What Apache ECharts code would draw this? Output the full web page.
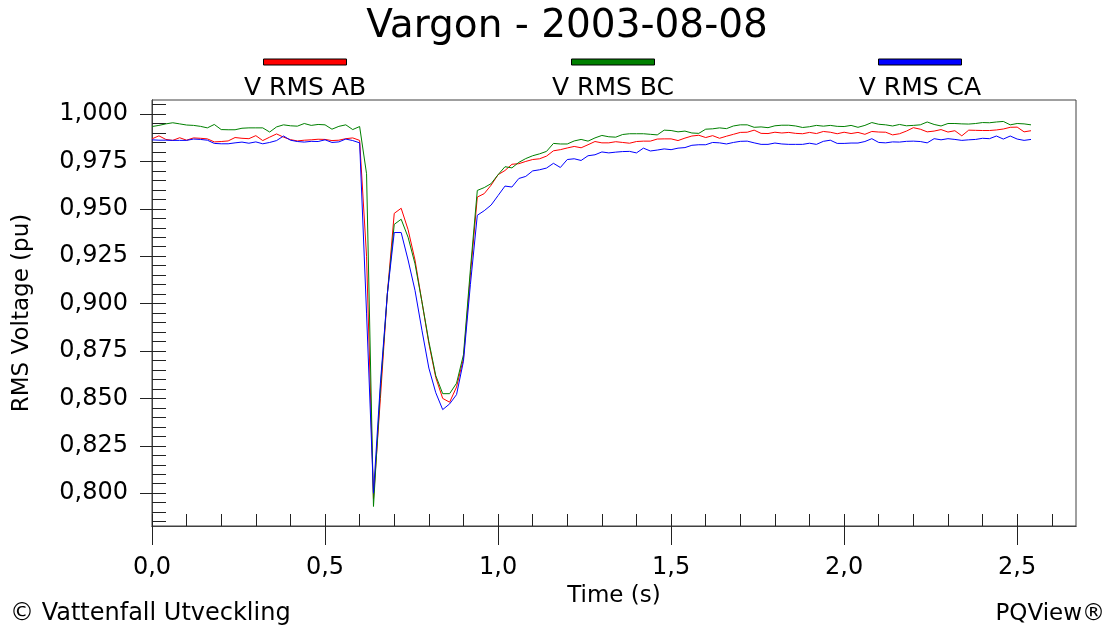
<!DOCTYPE html>
<html>
<head>
<meta charset="utf-8">
<script src="https://cdn.jsdelivr.net/npm/echarts@6/dist/echarts.min.js"></script>
<style>
  html, body { margin: 0; padding: 0; background: #fff; }
  #main { width: 1109px; height: 627px; }
</style>
</head>
<body>
<div id="main"></div>
<script>
// one sample per cycle (50 Hz), starting at t = 0
var DT = 0.02;

var rmsAB = [
  0.9869,0.9885,0.9866,0.9861,0.9875,0.9862,0.9874,0.9872,0.9869,0.9853,0.9855,0.9858,0.9876,0.9872,0.9870,0.9886,
  0.9860,0.9878,0.9895,0.9878,0.9865,0.9858,0.9862,0.9864,0.9867,0.9866,0.9860,0.9862,0.9870,0.9874,0.9861,
  0.925,0.797,0.850,0.905,0.9476,0.9503,0.939,0.923,0.901,0.879,0.861,0.850,0.848,0.856,0.871,0.915,0.9562,
  0.9580,0.9625,0.9680,0.9702,0.9735,0.9738,0.9750,0.9760,0.9764,0.9778,0.9806,0.9812,0.9821,0.9829,0.9822,0.9838,
  0.9855,0.9848,0.9848,0.9854,0.9850,0.9846,0.9855,0.9857,0.9857,0.9868,0.9869,0.9869,0.9860,0.9873,0.9884,0.9888,
  0.9876,0.9886,0.9872,0.9883,0.9893,0.9903,0.9904,0.9915,0.9898,0.9897,0.9904,0.9900,0.9903,0.9898,0.9896,0.9903,
  0.9897,0.9908,0.9904,0.9896,0.9904,0.9897,0.9903,0.9893,
  0.9908,0.9905,0.9904,0.9890,0.9896,0.9910,0.9928,0.9920,0.9906,0.9910,0.9918,0.9905,0.9912,0.9885,0.9915,0.9914,
  0.9913,0.9913,0.9916,0.9921,0.9930,0.9931,0.9906,0.9912
];

var rmsBC = [
  0.9934,0.9940,0.9948,0.9954,0.9948,0.9942,0.9940,0.9935,0.9927,0.9945,0.9918,0.9917,0.9917,0.9925,0.9927,0.9927,
  0.9927,0.9905,0.9932,0.9943,0.9938,0.9936,0.9950,0.9940,0.9945,0.9943,0.9920,0.9935,0.9943,0.9918,0.9934,
  0.9685,0.793,0.855,0.905,0.9418,0.9445,0.935,0.921,0.901,0.880,0.862,0.8525,0.8525,0.858,0.873,0.918,0.9597,
  0.9612,0.9633,0.9680,0.9722,0.9716,0.9745,0.9765,0.9780,0.9790,0.9803,0.9845,0.9842,0.9842,0.9858,0.9866,0.9857,
  0.9874,0.9887,0.9880,0.9878,0.9892,0.9896,0.9896,0.9896,0.9893,0.9890,0.9915,0.9913,0.9906,0.9910,0.9900,0.9898,
  0.9920,0.9922,0.9927,0.9923,0.9937,0.9943,0.9943,0.9930,0.9932,0.9928,0.9938,0.9941,0.9941,0.9937,0.9929,0.9933,
  0.9940,0.9936,0.9940,0.9935,0.9934,0.9940,0.9930,0.9940,
  0.9955,0.9946,0.9943,0.9937,0.9945,0.9938,0.9940,0.9943,0.9958,0.9945,0.9937,0.9950,0.9950,0.9948,0.9947,0.9950,
  0.9955,0.9954,0.9958,0.9961,0.9943,0.9950,0.9948,0.9943
];

var rmsCA = [
  0.9864,0.9862,0.9862,0.9861,0.9861,0.9861,0.9868,0.9866,0.9862,0.9845,0.9843,0.9843,0.9848,0.9852,0.9846,0.9853,
  0.9843,0.9850,0.9860,0.9884,0.9862,0.9855,0.9852,0.9856,0.9855,0.9864,0.9850,0.9853,0.9868,0.9860,0.9848,
  0.895,0.800,0.858,0.905,0.9375,0.9375,0.923,0.907,0.886,0.866,0.853,0.8441,0.8471,0.852,0.8696,0.910,0.9466,
  0.9490,0.9520,0.9570,0.9620,0.9615,0.9660,0.9671,0.9700,0.9706,0.9715,0.9740,0.9718,0.9760,0.9764,0.9755,0.9780,
  0.9785,0.9800,0.9795,0.9799,0.9802,0.9803,0.9795,0.9820,0.9805,0.9810,0.9816,0.9812,0.9820,0.9823,0.9835,0.9838,
  0.9838,0.9850,0.9848,0.9842,0.9850,0.9856,0.9857,0.9848,0.9840,0.9840,0.9847,0.9842,0.9840,0.9840,0.9840,0.9846,
  0.9840,0.9856,0.9862,0.9845,0.9845,0.9847,0.9847,0.9855,
  0.9870,0.9850,0.9848,0.9853,0.9852,0.9856,0.9857,0.9855,0.9848,0.9870,0.9864,0.9870,0.9866,0.9861,0.9864,0.9866,
  0.9872,0.9870,0.9884,0.9868,0.9884,0.9868,0.9861,0.9866
];

var seriesNames = ['V RMS AB', 'V RMS BC', 'V RMS CA'];
var xMajorTicks = [0, 0.5, 1.0, 1.5, 2.0, 2.5];
var yMajorTicks = [0.800, 0.825, 0.850, 0.875, 0.900, 0.925, 0.950, 0.975, 1.000];

var colors = ['#ff0000', '#008000', '#0000ff'];
var FONT = '"DejaVu Sans", "Liberation Sans", sans-serif';

// minor tick positions (0.1 s and 0.005 pu)
var xMinorTicks = [];
for (var i = 0; i <= 26; i++) xMinorTicks.push(Math.round(i * 10) / 100);
var yMinorTicks = [];
for (var j = 157; j <= 201; j++) yMinorTicks.push(Math.round(j * 5) / 1000);

function toPoints(vals) {
    return vals.map(function (v, i) {
        return [Math.round(i * DT * 100) / 100, v];
    });
}

var X_MIN = 0, X_MAX = 2.67;
var Y_MIN = 0.7827, Y_MAX = 1.0074;

var myChart = echarts.init(document.getElementById('main'));

var series = [rmsAB, rmsBC, rmsCA].map(function (vals, k) {
    return {
        name: seriesNames[k],
        type: 'line',
        xAxisIndex: 1,
        yAxisIndex: 1,
        symbol: 'none',
        lineStyle: { color: colors[k], width: 1 },
        data: toPoints(vals)
    };
});

// title, legend bars (above their labels) and footer
var legendX = [305, 613, 920];
var graphics = [{
    type: 'text', x: 567, y: 27,
    style: { text: 'Vargon - 2003-08-08', fill: '#000', font: '39px ' + FONT, align: 'center', verticalAlign: 'middle' }
}];
seriesNames.forEach(function (n, k) {
    graphics.push({
        type: 'rect',
        shape: { x: legendX[k] - 41.5, y: 59, width: 83, height: 6 },
        style: { fill: colors[k], stroke: '#000', lineWidth: 1 }
    });
    graphics.push({
        type: 'text',
        x: legendX[k], y: 88,
        style: { text: n, fill: '#000', font: '25px ' + FONT, align: 'center', verticalAlign: 'middle' }
    });
});
graphics.push({
    type: 'text', x: 10, y: 614,
    style: { text: '© Vattenfall Utveckling', fill: '#000', font: '24px ' + FONT, align: 'left', verticalAlign: 'middle' }
});
graphics.push({
    type: 'text', x: 1105, y: 614,
    style: { text: 'PQView®', fill: '#000', font: '23px ' + FONT, align: 'right', verticalAlign: 'middle' }
});

option = {
    backgroundColor: '#fff',
    animation: false,
    grid: {
        left: 152, top: 100, right: 33, bottom: 101,
        outerBoundsMode: 'none',
        containLabel: false,
        show: true, borderColor: '#404040', borderWidth: 1
    },
    xAxis: [
        {
            type: 'value', min: X_MIN, max: X_MAX, position: 'bottom',
            axisLine: { show: true, lineStyle: { color: '#404040', width: 1 } },
            axisTick: { show: true, inside: true, length: 12, lineStyle: { color: '#222' }, customValues: xMinorTicks },
            axisLabel: { show: false },
            splitLine: { show: false }
        },
        {
            type: 'value', min: X_MIN, max: X_MAX, position: 'bottom',
            name: 'Time (s)', nameLocation: 'middle', nameGap: 55,
            nameTextStyle: { color: '#000', fontSize: 23, fontFamily: FONT },
            axisLine: { show: true, lineStyle: { color: '#404040', width: 1 } },
            axisTick: { show: true, inside: false, length: 19, lineStyle: { color: '#222' }, customValues: xMajorTicks },
            axisLabel: {
                color: '#000', fontSize: 24, fontFamily: FONT, margin: 30,
                customValues: xMajorTicks,
                formatter: function (v) { return v.toFixed(1).replace('.', ','); }
            },
            splitLine: { show: false }
        }
    ],
    yAxis: [
        {
            type: 'value', min: Y_MIN, max: Y_MAX, position: 'left',
            axisLine: { show: true, lineStyle: { color: '#404040', width: 1 } },
            axisTick: { show: true, inside: true, length: 14, lineStyle: { color: '#222' }, customValues: yMinorTicks },
            axisLabel: { show: false },
            splitLine: { show: false }
        },
        {
            type: 'value', min: Y_MIN, max: Y_MAX, position: 'left',
            name: 'RMS Voltage (pu)', nameLocation: 'middle', nameGap: 118, nameRotate: 90,
            nameTextStyle: { color: '#000', fontSize: 23, fontFamily: FONT },
            axisLine: { show: true, lineStyle: { color: '#404040', width: 1 } },
            axisTick: { show: true, inside: false, length: 12, lineStyle: { color: '#222' }, customValues: yMajorTicks },
            axisLabel: {
                color: '#000', fontSize: 24, fontFamily: FONT, margin: 24,
                customValues: yMajorTicks,
                formatter: function (v) { return v.toFixed(3).replace('.', ','); }
            },
            splitLine: { show: false }
        }
    ],
    graphic: graphics,
    series: series
};

myChart.setOption(option);
</script>
</body>
</html>
